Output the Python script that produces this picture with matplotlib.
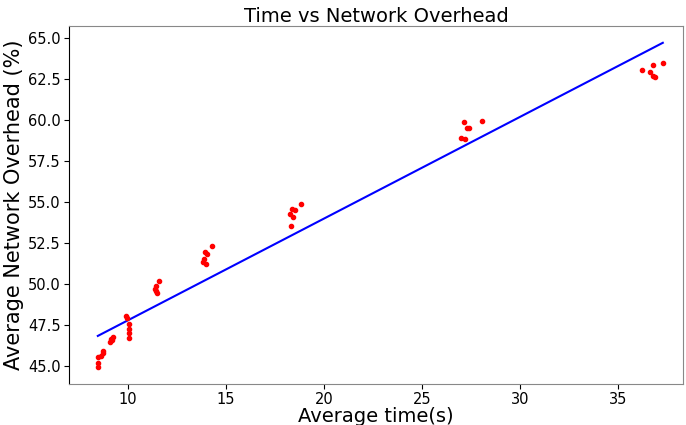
import numpy as np
import matplotlib.pyplot as plt

# measured points (average time in s, average network overhead in %)
avg_time = [8.47, 8.48, 8.50, 8.64, 8.71, 8.72,
            9.10, 9.13, 9.17, 9.22,
            9.92, 9.96, 10.04, 10.07, 10.06, 10.04,
            11.57, 11.44, 11.39, 11.43, 11.48,
            14.30, 13.94, 14.03, 13.89, 13.86, 13.98,
            18.86, 18.37, 18.54, 18.28, 18.42, 18.32,
            28.06, 27.18, 27.33, 27.41, 27.02, 27.23,
            37.30, 36.79, 36.22, 36.65, 36.79, 36.90]
avg_overhead = [44.92, 45.16, 45.53, 45.61, 45.81, 45.91,
                46.48, 46.65, 46.59, 46.75,
                48.05, 47.91, 47.54, 47.26, 46.99, 46.73,
                50.20, 49.88, 49.68, 49.57, 49.47,
                52.32, 51.95, 51.83, 51.50, 51.32, 51.22,
                54.88, 54.57, 54.49, 54.27, 54.10, 53.54,
                59.96, 59.90, 59.49, 59.49, 58.88, 58.86,
                63.46, 63.34, 63.07, 62.91, 62.66, 62.60]

# regression line
fit_slope = 0.62
fit_intercept = 41.58

x = np.array(avg_time)
y = np.array(avg_overhead)
xs = np.array([x.min(), x.max()])

fig = plt.figure(figsize=(6.86, 4.25), dpi=100)
ax = fig.add_axes([0.1006, 0.0965, 0.895, 0.8423])

ax.plot(xs, fit_slope * xs + fit_intercept, color='blue', linewidth=1.5)
ax.scatter(x, y, color='red', s=9, zorder=3)

ax.set_xlim(7.0, 38.33)
ax.set_ylim(43.9, 65.73)
ax.set_xticks([10, 15, 20, 25, 30, 35])
ax.set_yticks(np.arange(45, 65.1, 2.5))
ax.yaxis.set_major_formatter(plt.FormatStrFormatter('%.1f'))
ax.tick_params(labelsize=10.5, pad=2.5)

for side in ['top', 'right', 'bottom']:
    ax.spines[side].set_color('#888888')
ax.spines['left'].set_color('black')

ax.set_title("Time vs Network Overhead", fontsize=14, pad=3)
ax.set_xlabel("Average time(s)", fontsize=14, labelpad=0)
ax.set_ylabel("Average Network Overhead (%)", fontsize=15, labelpad=3)

fig.savefig("out.png")
